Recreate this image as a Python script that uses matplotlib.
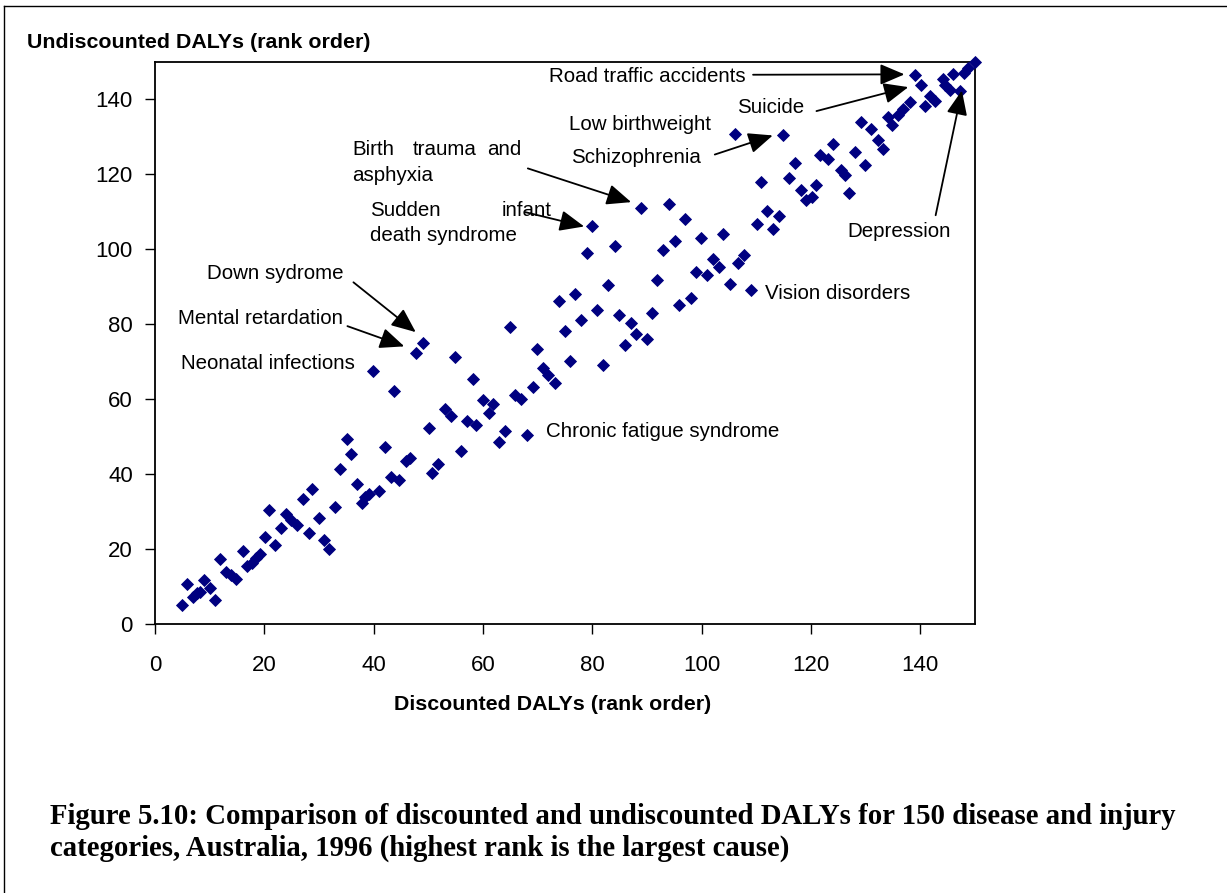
import numpy as np
import matplotlib
matplotlib.use('Agg')
import matplotlib.pyplot as plt
from matplotlib.lines import Line2D

plt.rcParams['font.family'] = ['Liberation Sans', 'DejaVu Sans']

# rank of each disease/injury category: discounted (x) vs undiscounted (y)
x_disc = [5.0, 5.8, 6.9, 7.6, 8.2, 9.0, 10.0, 10.9, 11.9, 13.0,
          13.9, 14.8, 16.1, 16.8, 17.7, 18.5, 19.2, 20.2, 20.8, 21.9,
          23.0, 24.0, 24.9, 26.0, 27.0, 28.2, 28.8, 30.0, 31.0, 31.8,
          32.9, 33.9, 35.1, 35.8, 37.0, 37.9, 38.5, 39.2, 39.8, 41.0,
          42.0, 43.1, 43.8, 44.6, 46.0, 46.7, 47.8, 49.0, 50.1, 50.7,
          51.8, 53.0, 54.1, 54.9, 55.9, 57.0, 58.2, 58.8, 60.0, 61.1,
          61.9, 62.9, 64.0, 65.0, 65.8, 67.0, 68.0, 69.2, 69.8, 70.9,
          71.8, 73.1, 73.9, 75.0, 76.0, 76.8, 77.9, 79.0, 80.0, 80.8,
          82.0, 82.9, 84.1, 84.9, 86.0, 87.1, 88.0, 88.9, 90.0, 91.0,
          91.8, 92.9, 94.0, 95.1, 95.8, 97.0, 98.1, 99.0, 99.9, 101.0,
          102.1, 103.1, 103.9, 105.1, 106.1, 106.6, 107.8, 109.1, 110.2, 110.9,
          111.9, 113.0, 114.2, 114.8, 116.0, 117.1, 118.2, 119.0, 120.1, 121.0,
          121.6, 123.1, 124.1, 125.4, 126.2, 127.0, 128.0, 129.1, 129.8, 130.9,
          132.2, 133.2, 134.0, 134.9, 136.0, 136.9, 138.1, 139.0, 140.2, 140.9,
          141.8, 142.6, 144.1, 144.5, 145.4, 145.9, 147.2, 147.9, 148.8, 150.0]
y_undisc = [5.2, 10.7, 7.3, 8.3, 8.6, 11.7, 9.5, 6.3, 17.4, 14.0,
            13.1, 12.0, 19.6, 15.5, 16.4, 17.5, 18.8, 23.3, 30.3, 21.1,
            25.5, 29.3, 27.7, 26.4, 33.4, 24.3, 36.1, 28.2, 22.4, 19.9,
            31.3, 41.3, 49.5, 45.3, 37.3, 32.2, 33.9, 34.7, 67.6, 35.5,
            47.3, 39.3, 62.2, 38.4, 43.6, 44.4, 72.2, 75.1, 52.2, 40.3,
            42.7, 57.5, 55.5, 71.3, 46.2, 54.2, 65.3, 53.1, 59.7, 56.4,
            58.7, 48.5, 51.6, 79.3, 61.1, 60.0, 50.4, 63.3, 73.3, 68.2,
            66.4, 64.2, 86.1, 78.2, 70.1, 88.2, 81.2, 99.0, 106.3, 83.9,
            69.1, 90.4, 101.0, 82.4, 74.4, 80.3, 77.4, 111.1, 76.0, 83.0,
            91.9, 99.9, 112.2, 102.1, 85.1, 108.0, 87.1, 94.0, 103.1, 93.1,
            97.5, 95.4, 104.1, 90.8, 130.8, 96.3, 98.4, 89.2, 106.8, 118.1,
            110.1, 105.3, 108.9, 130.4, 119.1, 123.0, 115.9, 113.1, 114.1, 117.1,
            125.2, 124.0, 128.2, 121.1, 119.9, 115.0, 126.0, 134.1, 122.4, 132.0,
            129.3, 126.8, 135.3, 133.1, 135.9, 137.5, 139.3, 146.4, 143.9, 138.2,
            141.0, 139.7, 145.5, 143.9, 142.6, 146.8, 142.3, 147.1, 148.4, 150.0]

ticks = [0, 20, 40, 60, 80, 100, 120, 140]

# labels: (text, x, y) in data units, and arrows: (tail, head)
labels = [
    ("Road traffic accidents", 72.0, 146.1),
    ("Suicide", 106.5, 137.9),
    ("Low birthweight", 75.7, 133.3),
    ("Schizophrenia", 76.1, 124.5),
    ("Birth", 36.1, 126.7), ("trauma", 47.1, 126.7), ("and", 60.7, 126.7),
    ("asphyxia", 36.1, 119.7),
    ("Sudden", 39.4, 110.4), ("infant", 63.4, 110.4),
    ("death syndrome", 39.4, 103.7),
    ("Down sydrome", 9.5, 93.6),
    ("Mental retardation", 4.2, 81.6),
    ("Neonatal infections", 4.8, 69.6),
    ("Chronic fatigue syndrome", 71.5, 51.5),
    ("Vision disorders", 111.5, 88.3),
    ("Depression", 126.7, 104.8),
]
arrows = [
    ((109.4, 146.6), (137.1, 146.7)),
    ((121.0, 136.9), (137.8, 143.3)),
    ((102.4, 125.3), (113.0, 130.4)),
    ((68.2, 121.6), (87.1, 112.6)),
    ((67.8, 109.9), (78.5, 106.1)),
    ((36.3, 91.2), (47.7, 77.9)),
    ((35.2, 79.5), (45.6, 74.1)),
    ((142.8, 109.1), (147.6, 142.4)),
]

caption = ["Figure 5.10: Comparison of discounted and undiscounted DALYs for 150 disease and injury",
           "categories, Australia, 1996 (highest rank is the largest cause)"]

fig = plt.figure(figsize=(12.27, 8.93), dpi=100)
ax = fig.add_axes([155 / 1227, 1 - 624 / 893, 820 / 1227, 562 / 893])

ax.plot(x_disc, y_undisc, linestyle='none', marker='D', markersize=6.4,
        color='#000080', markeredgewidth=0.6, clip_on=False, zorder=3)

ax.set_xlim(0, 150)
ax.set_ylim(0, 150)
ax.set_xticks(ticks)
ax.set_yticks(ticks)
ax.tick_params(axis='x', direction='out', length=7, width=1, pad=15, labelsize=16)
ax.tick_params(axis='y', direction='out', length=7, width=1, pad=9, labelsize=16)
for s in ax.spines.values():
    s.set_linewidth(1.3)

for txt, tx, ty in labels:
    ax.text(tx, ty, txt, fontsize=14.8, ha='left', va='center', zorder=4)

for tail, head in arrows:
    ax.annotate('', xy=head, xytext=tail,
                arrowprops=dict(arrowstyle='-|>,head_length=0.75,head_width=0.32',
                                mutation_scale=20, color='black', lw=1.3,
                                shrinkA=0, shrinkB=0))

fig.text(27 / 1227, 1 - 43 / 893, "Undiscounted DALYs (rank order)",
         fontsize=15.4, fontweight='bold', ha='left', va='center')
fig.text(553 / 1227, 1 - 704 / 893, "Discounted DALYs (rank order)",
         fontsize=15.4, fontweight='bold', ha='center', va='center')

for line, ypx in zip(caption, [817, 848]):
    fig.text(50 / 1227, 1 - ypx / 893, line, fontsize=20.7, fontweight='bold',
             family=['Liberation Serif', 'DejaVu Serif'], ha='left', va='center')

# outer frame of the figure (left and top edges visible)
fig.add_artist(Line2D([4 / 1227, 4 / 1227], [0, 1 - 6 / 893], transform=fig.transFigure,
                      color='black', lw=1))
fig.add_artist(Line2D([4 / 1227, 1], [1 - 6 / 893, 1 - 6 / 893], transform=fig.transFigure,
                      color='black', lw=1))

fig.savefig('out.png', dpi=100)
